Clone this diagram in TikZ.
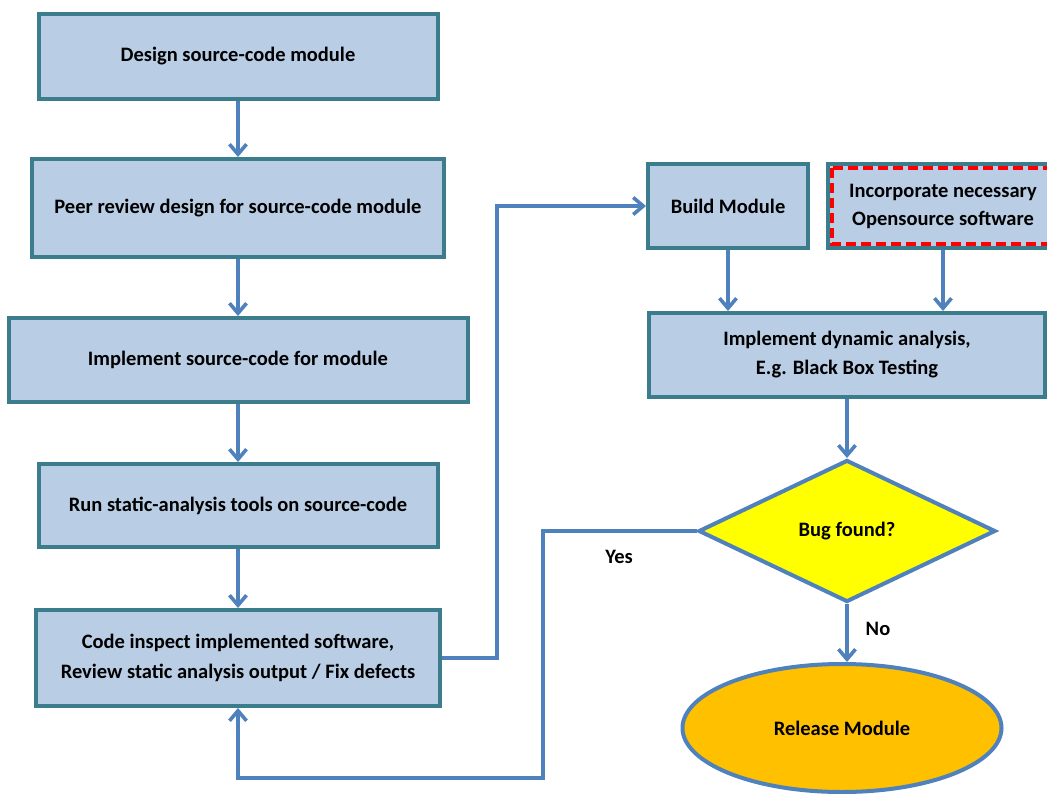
\documentclass[tikz,border=0pt]{standalone}
\usepackage{fontspec}
\setmainfont{Carlito}
\usetikzlibrary{arrows.meta,shapes.geometric,calc}

\definecolor{boxfill}{HTML}{B9CDE5}
\definecolor{boxedge}{HTML}{3B7D8C}
\definecolor{flowline}{HTML}{4F81BD}
\definecolor{decfill}{HTML}{FFFF00}
\definecolor{endfill}{HTML}{FFC000}
\definecolor{osred}{HTML}{FF0000}

\tikzset{
  every node/.style={font=\fontsize{20.5}{25}\selectfont\bfseries, text=black},
  stepbox/.style={draw=boxedge, fill=boxfill, line width=4pt, rectangle,
    align=center, inner sep=0pt},
  decision/.style={draw=flowline, fill=decfill, line width=4pt, diamond,
    inner sep=0pt},
  terminal/.style={draw=flowline, fill=endfill, line width=4pt, ellipse,
    inner sep=0pt},
  flow/.style={draw=flowline, line width=3.6pt,
    -{Straight Barb[length=10pt,width=17pt]}},
  osdash/.style={draw=osred, line width=3.4pt, dash pattern=on 10pt off 5pt},
  lbl/.style={font=\fontsize{20.5}{25}\selectfont\bfseries}
}

\begin{document}
\begin{tikzpicture}[x=1pt, y=-1pt]
  \useasboundingbox[fill=white] (0,0) rectangle (1047,793);
  \clip (0,0) rectangle (1047,793);

  % left column: design to inspection
  \node[stepbox, minimum width=399pt, minimum height=85pt] (design) at (238,56.5)
    {Design source-code module};
  \node[stepbox, minimum width=412pt, minimum height=98pt] (peer) at (238,208)
    {Peer review design for source-code module};
  \node[stepbox, minimum width=459pt, minimum height=84pt] (impl) at (238,360)
    {Implement source-code for module};
  \node[stepbox, minimum width=399pt, minimum height=83pt] (static) at (238,505.5)
    {Run static-analysis tools on source-code};
  \node[stepbox, minimum width=404pt, minimum height=96pt] (inspect) at (238,658)
    {Code inspect implemented software,\\[5pt]Review static analysis output / Fix defects};

  % right column: build, test, release
  \node[stepbox, minimum width=160pt, minimum height=84pt] (build) at (728,206)
    {Build Module};
  \node[stepbox, minimum width=230pt, minimum height=84pt] (oss) at (943,206)
    {Incorporate necessary\\[3pt]Opensource software};
  \draw[osdash] ([xshift=6pt,yshift=-6pt]oss.north west) rectangle
                ([xshift=-6pt,yshift=6pt]oss.south east);
  \node[stepbox, minimum width=396pt, minimum height=84pt] (dyn) at (847,355)
    {Implement dynamic analysis,\\[4pt]E.g. Black Box Testing};
  \node[decision, minimum width=297pt, minimum height=142pt, aspect=2.08] (bug) at (847,531)
    {Bug found?};
  \node[terminal, minimum width=319pt, minimum height=128pt] (rel) at (842,728)
    {Release Module};

  % turning points of the routed connectors
  \coordinate (upturn) at (497,0);
  \coordinate (yesx) at (543,0);
  \coordinate (loopy) at (0,778);

  % connectors
  \draw[flow] (design) -- (peer);
  \draw[flow] (peer) -- (impl);
  \draw[flow] (impl) -- (static);
  \draw[flow] (static) -- (inspect);
  \draw[flow] (inspect.east) -- (inspect.east -| upturn) -- (build.west -| upturn) -- (build.west);
  \draw[flow] (build.south) -- (build.south |- dyn.north);
  \draw[flow] (oss.south) -- (oss.south |- dyn.north);
  \draw[flow] (dyn.south -| bug.north) -- (bug.north);
  \draw[flow] (bug.south) -- (bug.south |- rel.north);
  \draw[flow] (bug.west) -- (bug.west -| yesx) -- (yesx |- loopy)
              -- (inspect.south |- loopy) -- (inspect.south);

  % branch labels
  \node[lbl] (yes) at (619,557) {Yes};
  \node[lbl] (no) at (878,629) {No};
\end{tikzpicture}
\end{document}
